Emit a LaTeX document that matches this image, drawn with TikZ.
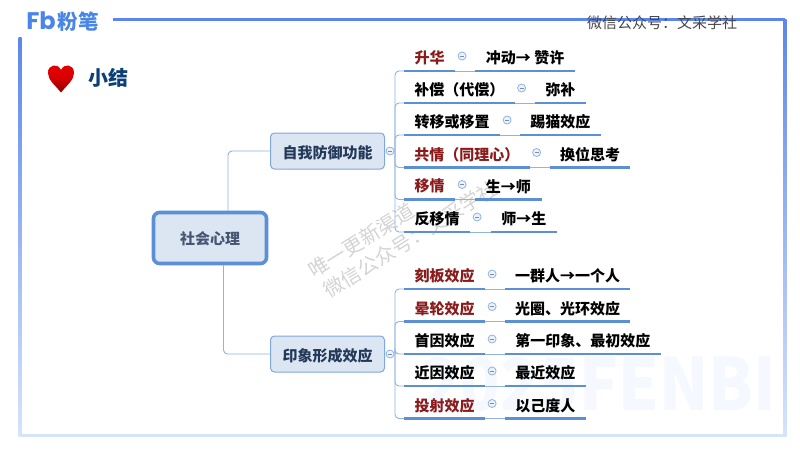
\documentclass[tikz,border=0pt]{standalone}
\usepackage{fontspec}
\setmainfont{Noto Sans CJK SC}
\newfontfamily\latinbold{Poppins}
\usetikzlibrary{calc,shadings}
\definecolor{framedark}{HTML}{5C86EE}
\definecolor{framelight}{HTML}{D6E4FB}
\definecolor{conn}{HTML}{8FB4E0}
\definecolor{uline}{HTML}{5B8FD6}
\definecolor{boxfill}{HTML}{DCE6F2}
\definecolor{boxline}{HTML}{7FA8DC}
\definecolor{hubline}{HTML}{5B90D6}
\definecolor{boxtext}{HTML}{24395A}
\definecolor{darkred}{HTML}{8B1A1A}
\definecolor{logoblue}{HTML}{4A86E8}
\definecolor{titleblue}{HTML}{0B3F78}
\tikzset{
  x=1pt,y=-1pt,
  every node/.style={font=\fontsize{15pt}{16pt}\selectfont\bfseries,inner sep=0pt},
  connline/.style={draw=conn,line width=0.9pt,rounded corners=4pt},
  underline/.style={draw=uline,line width=2.2pt},
  thinline/.style={draw=conn,line width=0.9pt},
  hubbox/.style={draw=hubline,fill=boxfill,line width=3.6pt,rounded corners=6pt,minimum width=113pt,minimum height=51pt,text=boxtext!85,text height=15pt,text depth=1.6pt},
  subbox/.style={draw=boxline,fill=boxfill,line width=1pt,rounded corners=4pt,minimum width=114pt,minimum height=36pt,text=boxtext,text height=16pt,text depth=1.6pt},
  leaf/.style={minimum height=26pt,anchor=south west,text=black},
  redleaf/.style={leaf,text=darkred},
  collapse/.style={circle,draw=conn,fill=boxfill!50,line width=0.8pt,minimum size=8pt,
    path picture={\draw[conn!80!black,line width=0.6pt]
      ([xshift=-2pt]path picture bounding box.center)--([xshift=2pt]path picture bounding box.center);}},
  wm/.style={font=\fontsize{20pt}{20pt}\selectfont,text=black!17,rotate=32,anchor=west},
}
\newcommand{\leafpair}[9]{%
  % #1 id, #2 style, #3 text, #4 x end, #5 y, #6 right start, #7 right end, #8 right text, #9 parent
  \node[#2,minimum width=#4-404pt] (#1l) at (404,#5) {#3};
  \node[leaf,minimum width=#7-#6pt] (#1r) at (#6,#5) {#8};
  \node[collapse] (#1c) at ($(#1l.south east)+(6.7,-15)$) {};
  \draw[connline] (#9) |- (#1l.south west);
  \draw[thinline] (#1l.south east) -- (#1r.south west);
  \draw[underline] (#1l.south west) -- (#1l.south east);
  \draw[underline] (#1r.south west) -- (#1r.south east);
}
\begin{document}
\begin{tikzpicture}
\useasboundingbox (0,0) rectangle (800,450);
\fill[white] (0,0) rectangle (800,450);
% watermark
\node[font=\fontsize{72pt}{72pt}\selectfont\bfseries,text=framedark!6,anchor=center,xscale=0.9] (wmb) at (599,384) {2025FENBI};
% frame
\fill[framedark] (113,17.5) rectangle (785,20.5);
\shade[top color=framedark,bottom color=framelight] (18.5,37) rectangle (21.5,436);
\shade[top color=framedark,bottom color=framelight] (783.5,19) rectangle (786.5,436);
\fill[framelight] (18.5,433.5) rectangle (786.5,436.5);
% logo
\node[font=\latinbold\fontsize{24pt}{24pt}\selectfont\bfseries,text=logoblue] (logo) at (41,21) {Fb};
\node[font=\fontsize{20.5pt}{22pt}\selectfont\bfseries,text=logoblue] (logot) at (78,22) {粉笔};
% header text
\node[font=\fontsize{15pt}{16pt}\selectfont,text=black!72] (wx) at (662,23) {微信公众号：文采学社};
% heart
\shade[top color=red!90!black,bottom color=red!55!black,middle color=red!85!black]
  (61,92.5) .. controls (55,85) and (48,80) .. (48,73) .. controls (48,64) and (58,63) .. (61,70)
  .. controls (64,63) and (74,64) .. (74,73) .. controls (74,80) and (67,85) .. (61,92.5) -- cycle;
\node[font=\fontsize{20pt}{22pt}\selectfont\bfseries,text=titleblue] (title) at (108.5,78) {小结};
% watermark diagonal
\node[wm] (wm1) at (310.5,272.3) {唯一更新渠道};
\node[wm] (wm2) at (325.5,292.3) {微信公众号：文采学社};
% main nodes
\node[hubbox] (root) at (210,238) {社会心理};
\node[subbox] (a) at (327.5,151) {自我防御功能};
\node[subbox] (b) at (327.5,354) {印象形成效应};
\coordinate (rt) at (228,211);
\coordinate (rb) at (223.5,265);
\draw[connline] (rt) |- (a.west);
\draw[connline] (rb) |- (b.west);
\coordinate (sa) at (395,151);
\coordinate (sb) at (395,354);
\node[collapse] (ca) at (390,151) {};
\node[collapse] (cb) at (390,354) {};
\leafpair{p1}{redleaf}{升华}{455}{71}{475}{575}{冲动→ 赞许}{sa}
\leafpair{p2}{leaf}{补偿（代偿）}{514.5}{103}{535}{585.5}{弥补}{sa}
\leafpair{p3}{leaf}{转移或移置}{500}{135}{520}{600.5}{踢猫效应}{sa}
\leafpair{p4}{redleaf}{共情（同理心）}{529.5}{167.5}{550}{630}{换位思考}{sa}
\leafpair{p5}{redleaf}{移情}{455}{199.5}{475}{541.5}{生→师}{sa}
\leafpair{p6}{leaf}{反移情}{470}{232}{491}{556.5}{师→生}{sa}
\leafpair{q1}{redleaf}{刻板效应}{485}{289}{505}{630}{一群人→一个人}{sb}
\leafpair{q2}{redleaf}{晕轮效应}{485}{321.5}{505}{630}{光圈、光环效应}{sb}
\leafpair{q3}{leaf}{首因效应}{485}{354}{505}{660.5}{第一印象、最初效应}{sb}
\leafpair{q4}{leaf}{近因效应}{485}{386}{505}{585.5}{最近效应}{sb}
\leafpair{q5}{redleaf}{投射效应}{485}{418.5}{505}{585.5}{以己度人}{sb}
\end{tikzpicture}
\end{document}
